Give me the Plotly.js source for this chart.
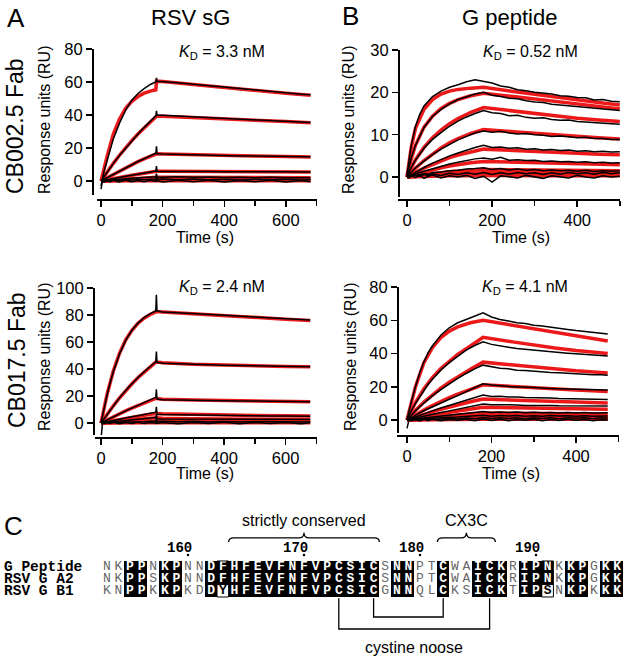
<!DOCTYPE html>
<html>
<head>
<meta charset="utf-8">
<script src="https://cdn.plot.ly/plotly-3.0.1.min.js"></script>
<style>
  body { margin: 0; background: white; }
  #plot { width: 625px; height: 663px; }
</style>
</head>
<body>
<div id="plot"></div>
<script>
// ---- sensorgram data (RU vs s) ----
// panel A: RSV sG, raw traces share tA, fits share tFitA
const tA = [0, 5, 10, 20, 30, 40, 60, 80, 100, 120, 140, 160, 178, 180, 182, 200, 250, 300, 350, 400, 450, 500, 550, 600, 650, 680];
const tFitA = [0, 10, 20, 40, 60, 80, 100, 120, 140, 160, 178, 180, 200, 300, 400, 500, 600, 680];

const cb002SgRaw = [
  [-3, 2.5, 6, 12.5, 19, 25.5, 35, 43, 49, 53, 56, 58.5, 60, 62.5, 60.5, 60.3, 59.6, 58.7, 57.8, 56.8, 55.8, 54.9, 54, 53.3, 52.6, 52.2],
  [0, 1.4, 2.8, 5.5, 8, 10.5, 15.5, 20, 24.5, 28.5, 32.5, 36.3, 39.5, 42.5, 40, 39.8, 39.3, 38.8, 38.3, 37.8, 37.3, 36.8, 36.4, 36, 35.6, 35.4],
  [0, 0.5, 1, 2, 3, 4.1, 6.2, 8.1, 10, 11.8, 13.5, 15.2, 16.8, 21, 16.5, 16.3, 16, 15.8, 15.6, 15.4, 15.2, 15.1, 15, 14.9, 14.8, 14.7],
  [0, 0.2, 0.4, 0.8, 1.1, 1.4, 2.1, 2.8, 3.5, 4.2, 4.8, 5.4, 6, 9, 5.9, 5.8, 5.9, 5.7, 5.8, 5.6, 5.7, 5.6, 5.5, 5.6, 5.5, 5.5],
  [0, 0.1, 0.2, 0.4, 0.5, 0.7, 1, 1.3, 1.6, 1.8, 2.1, 2.3, 2.5, 4.5, 2.4, 2.3, 2.5, 2.2, 2.4, 2.1, 2.3, 2, 2.2, 1.9, 2.1, 1.9],
  [0, 0.3, -0.1, 0.4, 0.2, 0.5, 0.4, 0.8, 0.6, 1, 0.7, 1.1, 0.9, 3, 1, 1.2, 0.7, 1.2, 0.8, 1.1, 0.6, 1.1, 0.7, 1, 0.6, 0.9],
  [-5, 0.5, -0.6, 0.3, -0.5, 0.4, -0.6, 0.5, -0.4, 0.3, -0.5, 0.4, -0.3, 1.5, 0.2, -0.6, 0.5, -0.5, 0.4, -0.6, 0.3, -0.5, 0.4, -0.6, 0.3, -0.4]
];
const cb002SgFit = [
  [0, 8, 15, 28.5, 37.5, 44, 48.3, 51.2, 53.2, 54.5, 55.3, 60.5, 60.3, 58.5, 56.6, 54.8, 53.2, 52],
  [0, 2.8, 5.5, 10.7, 15.6, 20.2, 24.5, 28.5, 32.3, 35.9, 39, 39.3, 39.3, 38.6, 37.7, 36.8, 36, 35.3],
  [0, 1, 2.1, 4.1, 6.1, 8, 9.9, 11.7, 13.4, 15, 16.4, 16.5, 16.4, 15.8, 15.4, 15.1, 14.8, 14.6],
  [0, 0.4, 0.8, 1.5, 2.2, 2.9, 3.5, 4.1, 4.7, 5.3, 5.8, 5.9, 5.9, 5.8, 5.7, 5.6, 5.5, 5.5],
  [0, 0.15, 0.3, 0.6, 0.9, 1.2, 1.4, 1.7, 1.9, 2.1, 2.3, 2.3, 2.3, 2.2, 2.2, 2.1, 2, 2],
  [0, 0.1, 0.2, 0.3, 0.45, 0.55, 0.65, 0.75, 0.85, 0.9, 1, 1, 1, 0.95, 0.9, 0.9, 0.85, 0.85],
  [0, 0.05, 0.1, 0.1, 0.15, 0.15, 0.15, 0.2, 0.2, 0.2, 0.2, 0.2, 0.2, 0.2, 0.2, 0.2, 0.2, 0.2]
];

const cb017SgRaw = [
  [0, 5.5, 11, 21, 30, 38, 51, 61, 68.5, 74, 78, 81, 83, 95, 83, 82.3, 81.7, 81, 80.3, 79.6, 79, 78.4, 77.8, 77.2, 76.6, 76.3],
  [0, 1.6, 3.3, 6.5, 9.7, 12.8, 18.6, 24, 29, 33.7, 38, 42, 45.4, 53, 45, 44.3, 43.8, 43.4, 43.1, 42.8, 42.6, 42.3, 42.1, 41.9, 41.8, 41.7],
  [0, 0.6, 1.2, 2.4, 3.5, 4.7, 6.9, 9, 11, 13, 15, 17.2, 19, 25, 17.8, 17.3, 17, 16.8, 16.6, 16.5, 16.3, 16.2, 16.1, 16, 15.9, 15.8],
  [0, 0.25, 0.5, 1, 1.4, 1.9, 2.8, 3.7, 4.6, 5.4, 6.2, 7, 8, 12, 6.5, 6.2, 6, 5.8, 5.7, 5.5, 5.4, 5.3, 5.2, 5.2, 5.1, 5],
  [0, 0.1, 0.3, 0.5, 0.8, 1, 1.5, 1.9, 2.3, 2.8, 3.2, 3.6, 4, 6, 3.2, 3, 2.9, 2.8, 2.9, 2.7, 2.6, 2.7, 2.5, 2.6, 2.4, 2.5],
  [0, 0.3, 0.1, 0.4, 0.3, 0.6, 0.5, 0.8, 0.7, 1, 0.9, 1.2, 1.3, 3, 1.1, 1.3, 0.9, 1.2, 0.8, 1.1, 0.7, 1.1, 0.8, 1, 0.7, 1],
  [-12, 0.5, -0.5, 0.4, -0.4, 0.5, -0.5, 0.4, -0.3, 0.5, -0.4, 0.3, -0.2, 1.5, -0.3, 0.4, -0.5, 0.3, -0.4, 0.5, -0.5, 0.3, -0.4, 0.4, -0.5, 0.2]
];
const cb017SgFit = [
  [0, 11, 21.5, 38.5, 51.5, 61.5, 68.5, 73.8, 77.6, 80.4, 82.3, 82.5, 82.3, 80.8, 79.3, 78, 76.9, 76],
  [0, 3.3, 6.5, 12.7, 18.5, 23.9, 28.9, 33.5, 37.8, 41.8, 45.1, 45.2, 44.6, 43.5, 42.8, 42.3, 41.9, 41.6],
  [0, 1.2, 2.4, 4.7, 6.9, 9, 11, 13, 14.9, 16.7, 18.2, 18.2, 17.6, 17, 16.6, 16.3, 16, 15.8],
  [0, 0.45, 0.9, 1.8, 2.7, 3.5, 4.3, 5.1, 5.8, 6.5, 7.1, 7.1, 6.8, 6.2, 5.8, 5.5, 5.3, 5.1],
  [0, 0.25, 0.5, 1, 1.5, 1.9, 2.3, 2.7, 3.1, 3.5, 3.8, 3.8, 3.5, 3.1, 2.9, 2.7, 2.6, 2.5],
  [0, 0.1, 0.2, 0.4, 0.55, 0.7, 0.85, 1, 1.1, 1.2, 1.3, 1.3, 1.25, 1.15, 1.05, 1, 0.95, 0.9],
  [0, 0.05, 0.1, 0.1, 0.15, 0.15, 0.2, 0.2, 0.2, 0.2, 0.2, 0.2, 0.2, 0.2, 0.2, 0.2, 0.2, 0.2]
];

// panel B: G peptide
const tB = [0, 5, 10, 20, 30, 40, 50, 60, 80, 100, 120, 140, 160, 180, 200, 220, 240, 260, 280, 300, 320, 340, 360, 380, 400, 420, 440, 460, 480, 500];
const tFitB = [0, 10, 20, 40, 60, 80, 100, 120, 150, 180, 250, 300, 350, 400, 450, 500];

const cb002PepRaw = [
  [0.5, 4, 7.5, 12, 14.8, 16.8, 18, 19, 20.3, 21.2, 21.8, 22.5, 23, 22.6, 22.2, 21.5, 21.2, 20.6, 20.4, 20, 19.8, 19.6, 19.2, 19.1, 18.8, 18.7, 18.2, 18.3, 17.9, 17.8],
  [0.3, 2.5, 4.5, 7.5, 9.8, 11.7, 13, 14.3, 16, 17.3, 18.3, 19, 19.6, 20, 19.3, 19, 18.6, 18.5, 18, 17.7, 17.6, 17.2, 17, 16.8, 16.7, 16.4, 16.3, 16, 15.9, 15.7],
  [0, 1.2, 2.3, 4, 5.5, 6.8, 7.9, 8.9, 10.5, 12, 13.2, 14.2, 15, 15.7, 15.2, 15, 14.5, 14.6, 14.1, 13.9, 14, 13.6, 13.4, 13.5, 13.1, 13, 12.9, 12.8, 12.6, 12.5],
  [0, 0.6, 1.2, 2.2, 3, 3.8, 4.6, 5.3, 6.6, 7.8, 8.8, 9.6, 10.4, 10.9, 10.6, 10.8, 10.4, 10.2, 10.3, 10, 9.9, 9.6, 9.7, 9.5, 9.3, 9.4, 9.1, 9.1, 8.9, 8.9],
  [0, 0.3, 0.6, 1.2, 1.8, 2.3, 2.8, 3.3, 4.2, 5, 5.7, 6.4, 7, 7.5, 7, 7.1, 6.8, 6.9, 6.6, 6.7, 6.4, 6.5, 6.3, 6.4, 6.1, 6.2, 6, 6.1, 5.9, 6],
  [0, 0.2, 0.4, 0.8, 1.1, 1.4, 1.7, 2, 2.6, 3.1, 3.5, 3.9, 4.3, 4.5, 4.2, 4.7, 4, 4.1, 3.9, 4, 3.7, 3.8, 3.6, 3.7, 3.5, 3.6, 3.4, 3.5, 3.3, 3.4],
  [0, 0.1, 0.2, 0.4, 0.5, 0.8, 0.7, 1, 1.2, 1.5, 1.6, 1.9, 2, 2.2, 1.8, 2, 1.7, 1.9, 1.6, 1.8, 1.5, 1.7, 1.5, 1.6, 1.4, 1.6, 1.3, 1.5, 1.4, 1.5],
  [0, 0.1, 0.2, 0.5, 0.2, 0.6, 0.3, 0.7, 0.4, 0.9, 0.6, 1, 0.7, 1.1, 0.6, 1, 0.7, 1.1, 0.8, 1, 0.6, 1, 0.7, 1.1, 0.8, 1, 0.7, 1.1, 0.8, 1],
  [0, -0.2, 0.3, -0.1, 0.4, -0.3, 0.2, 0.5, -0.2, 0.3, 0, 0.4, -0.3, 0.2, -1.2, 0.3, 0.1, -0.2, 0.4, 0, -0.3, 0.3, 0.1, -0.2, 0.4, 0, -0.2, 0.3, 0, 0.2]
];
const cb002PepFit = [
  [0, 7, 11.5, 16, 18.3, 19.6, 20.3, 20.7, 21, 21.2, 20.2, 19.5, 18.8, 18.2, 17.6, 17],
  [0, 4.3, 7.5, 11.8, 14.4, 16.2, 17.4, 18.3, 19.2, 19.8, 19, 18.4, 17.8, 17.2, 16.6, 16.1],
  [0, 2.2, 4.1, 7, 9.3, 11.1, 12.6, 13.8, 15.3, 16.4, 15.6, 15, 14.4, 13.9, 13.5, 13.1],
  [0, 1.1, 2.1, 3.9, 5.5, 6.9, 8.1, 9.1, 10.3, 11.2, 10.7, 10.3, 9.9, 9.6, 9.3, 9],
  [0, 0.6, 1.1, 2.1, 3, 3.8, 4.6, 5.2, 6, 6.6, 6.3, 6, 5.8, 5.6, 5.4, 5.3],
  [0, 0.3, 0.6, 1.2, 1.7, 2.2, 2.6, 3, 3.4, 3.7, 3.5, 3.3, 3.2, 3.1, 3, 2.9],
  [0, 0.15, 0.3, 0.6, 0.85, 1.05, 1.25, 1.4, 1.6, 1.8, 1.75, 1.7, 1.65, 1.6, 1.55, 1.5],
  [0, 0.1, 0.2, 0.35, 0.5, 0.6, 0.7, 0.8, 0.9, 1, 1, 0.95, 0.95, 0.9, 0.9, 0.9],
  [0, 0.05, 0.1, 0.15, 0.2, 0.25, 0.3, 0.3, 0.35, 0.35, 0.35, 0.3, 0.3, 0.3, 0.3, 0.3]
];

const tB2 = [0, 5, 10, 20, 30, 40, 50, 60, 80, 100, 120, 140, 160, 180, 200, 220, 240, 260, 280, 300, 320, 340, 360, 380, 400, 420, 440, 460, 475];
const tFitB2 = [0, 10, 20, 40, 60, 80, 100, 120, 150, 180, 250, 300, 350, 400, 475];

const cb017PepRaw = [
  [0, 6, 11, 20, 28.5, 35, 40.5, 44.5, 51, 55.5, 58.5, 60.5, 62.5, 64.5, 62, 60.5, 59.5, 58.5, 58, 57, 56.5, 55.7, 55, 54.5, 53.8, 53.2, 52.7, 52.3, 51.8],
  [0, 2.8, 5.5, 10, 14, 18, 21.5, 24.5, 30, 34.5, 38.5, 42, 44.8, 47, 45.5, 44.5, 43.8, 43, 42.5, 41.8, 41.3, 41, 40.5, 40.2, 39.8, 39.5, 39.2, 38.8, 38.5],
  [0, 1.5, 3, 5.5, 8, 10.3, 12.5, 14.5, 18.3, 21.8, 25, 28, 30.8, 33, 32, 31.2, 30.8, 30, 29.8, 29.3, 29, 28.6, 28.5, 28.1, 27.8, 27.6, 27.3, 27.2, 27],
  [0, 0.8, 1.6, 3, 4.3, 5.6, 6.8, 8, 10.3, 12.5, 14.7, 17, 19.5, 21.8, 21, 20.5, 20.3, 19.8, 19.8, 19.4, 19.2, 19, 18.8, 18.7, 18.5, 18.4, 18.2, 18.1, 18],
  [0, 0.5, 1, 2, 2.9, 3.8, 4.7, 5.5, 7.2, 8.8, 10.4, 12, 13.6, 15, 14.2, 14.3, 13.8, 13.9, 13.5, 13.5, 13.2, 13.3, 13, 12.9, 12.9, 12.7, 12.6, 12.5, 12.4],
  [0, 0.3, 0.6, 1.2, 1.8, 2.3, 2.9, 3.4, 4.5, 5.5, 6.5, 7.5, 8.6, 9.6, 9.2, 9.3, 9, 9.1, 8.8, 8.9, 8.7, 8.8, 8.6, 8.6, 8.5, 8.6, 8.4, 8.5, 8.4],
  [0, 0.2, 0.3, 0.6, 0.9, 1.2, 1.5, 1.8, 2.3, 2.9, 3.4, 4, 4.5, 5.1, 4.6, 4.9, 4.5, 4.8, 4.4, 4.7, 4.4, 4.6, 4.3, 4.6, 4.3, 4.5, 4.2, 4.5, 4.4],
  [0, 0.1, 0.2, 0.3, 0.6, 0.6, 0.9, 1, 1.2, 1.7, 1.8, 2.3, 2.4, 2.9, 2.3, 2.7, 2.4, 2.7, 2.3, 2.6, 2.3, 2.7, 2.4, 2.6, 2.3, 2.6, 2.3, 2.6, 2.4],
  [0, 0.3, -0.2, 0.4, 0.1, 0.6, 0.2, 0.8, 0.4, 1, 0.6, 1.2, 0.8, 1.5, 0.9, 1.4, 0.9, 1.3, 0.8, 1.4, 0.9, 1.3, 0.8, 1.4, 1, 1.3, 0.8, 1.3, 1],
  [-5, 0.5, -0.4, 0.3, -0.5, 0.4, -0.3, 0.5, -0.4, 0.3, -0.2, 0.5, -0.4, 0.6, -0.3, 0.4, -0.5, 0.3, -0.2, 0.5, -0.4, 0.3, -0.3, 0.4, -0.2, 0.3, -0.4, 0.2, 0]
];
const cb017PepFit = [
  [0, 11, 20, 34.5, 43.5, 49.5, 53.5, 56, 58.5, 60, 57, 54.5, 52.5, 50.5, 47.5],
  [0, 5.6, 10.5, 18.8, 25.5, 31, 35.5, 39.5, 44.5, 49.8, 47, 45, 43.3, 41.8, 40],
  [0, 3, 5.8, 10.8, 15.2, 19.2, 22.8, 26, 30.5, 34.8, 33, 31.8, 30.6, 29.6, 28.3],
  [0, 1.6, 3.1, 6, 8.7, 11.2, 13.5, 15.6, 18.6, 21.2, 20.2, 19.4, 18.7, 18.1, 17.2],
  [0, 0.9, 1.8, 3.5, 5, 6.5, 7.9, 9.2, 11, 12.6, 12.1, 11.6, 11.2, 10.7, 10.2],
  [0, 0.5, 1, 2, 2.9, 3.8, 4.6, 5.4, 6.6, 7.7, 7.4, 7.2, 7, 6.8, 6.5],
  [0, 0.3, 0.6, 1.1, 1.6, 2.1, 2.6, 3, 3.6, 4.2, 4.1, 4, 3.9, 3.8, 3.7],
  [0, 0.15, 0.3, 0.6, 0.9, 1.2, 1.5, 1.7, 2.1, 2.4, 2.35, 2.3, 2.25, 2.2, 2.15],
  [0, 0.1, 0.2, 0.35, 0.5, 0.6, 0.7, 0.8, 0.95, 1.1, 1.1, 1.05, 1.05, 1, 1],
  [0, 0.05, 0.1, 0.15, 0.2, 0.25, 0.3, 0.3, 0.35, 0.4, 0.4, 0.4, 0.4, 0.4, 0.4]
];

const kdLabels = ['3.3 nM', '2.4 nM', '0.52 nM', '4.1 nM'];

// ---- panel C: alignment ----
const seqNames = ['G Peptide', 'RSV G A2', 'RSV G B1'];
const seqs = [
  'NKPPNKPNNDFHFEVFNFVPCSICSNNPTCWAICKRIPNKKPGKK',
  'NKPPSKPNNDFHFEVFNFVPCSICSNNPTCWAICKRIPNKKPGKK',
  'KNPPKKPKDDYHFEVFNFVPCSICGNNQLCKSICKTIPSNKPKKK'
];
const firstResidue = 153;
const rulerMarks = [160, 170, 180, 190];
const framedResidues = [163, 191];
const braceSpans = [[164, 176], [182, 186]];
const braceLabels = ['strictly conserved', 'CX3C'];
const noosePairs = [[173, 186], [176, 182]];

// ---- helpers ----
const W = 625, H = 663;
const px = x => x / W;
const py = y => 1 - y / H;
const SANS = 'Liberation Sans, Arial, sans-serif';
const MONO = 'Liberation Mono, Courier New, monospace';
const RED = 'rgb(235,25,25)';

const traces = [];
function addPanel(tRaw, raw, tFit, fit, xa, ya) {
  fit.forEach(f => traces.push({
    x: tFit, y: f, xaxis: xa, yaxis: ya, type: 'scatter', mode: 'lines',
    line: {color: RED, width: 3.5}, hoverinfo: 'skip'
  }));
  raw.forEach(r => traces.push({
    x: tRaw, y: r, xaxis: xa, yaxis: ya, type: 'scatter', mode: 'lines',
    line: {color: 'black', width: 1.5}, hoverinfo: 'skip'
  }));
}
addPanel(tA, cb002SgRaw, tFitA, cb002SgFit, 'x', 'y');
addPanel(tA, cb017SgRaw, tFitA, cb017SgFit, 'x2', 'y2');
addPanel(tB, cb002PepRaw, tFitB, cb002PepFit, 'x3', 'y3');
addPanel(tB2, cb017PepRaw, tFitB2, cb017PepFit, 'x4', 'y4');

// alignment shading: identical columns black, framed columns black where they match row 0
const nCol = seqs[0].length;
const cols = Array.from({length: nCol}, (_, i) => i);
const framedCols = framedResidues.map(n => n - firstResidue);
const shade = seqs.map(s => cols.map(i => {
  const same = seqs.every(o => o[i] === s[i]);
  if (same) return 1;
  if (framedCols.includes(i) && s[i] === seqs[0][i]) return 1;
  return 0;
}));
traces.push({
  type: 'heatmap', x: cols, y: [0, 1, 2], z: shade, xaxis: 'x5', yaxis: 'y5',
  colorscale: [[0, 'rgba(255,255,255,0)'], [1, 'black']], zmin: 0, zmax: 1,
  showscale: false, hoverinfo: 'skip'
});
const groups = {white: {x: [], y: [], t: []}, gray: {x: [], y: [], t: []}, framed: {x: [], y: [], t: []}};
seqs.forEach((s, r) => cols.forEach(i => {
  let g = 'gray';
  if (shade[r][i]) g = 'white';
  else if (framedCols.includes(i)) g = 'framed';
  groups[g].x.push(i); groups[g].y.push(r); groups[g].t.push(s[i]);
}));
const groupFont = {
  white: {color: 'white', weight: 'bold'},
  gray: {color: '#666', weight: 'normal'},
  framed: {color: 'black', weight: 'bold'}
};
Object.keys(groups).forEach(k => traces.push({
  type: 'scatter', mode: 'text', x: groups[k].x, y: groups[k].y, text: groups[k].t,
  xaxis: 'x5', yaxis: 'y5', cliponaxis: false, hoverinfo: 'skip',
  textposition: 'middle center',
  textfont: {family: MONO, size: 13, color: groupFont[k].color, weight: groupFont[k].weight}
}));
traces.push({
  type: 'scatter', mode: 'markers', x: rulerMarks.map(n => n - firstResidue),
  y: rulerMarks.map(() => -1.0), xaxis: 'x5', yaxis: 'y5', cliponaxis: false,
  marker: {color: 'black', size: 2.5}, hoverinfo: 'skip'
});

// ---- axes ----
const axisBase = {
  showline: true, linecolor: 'black', linewidth: 1.5, ticks: 'outside', ticklen: 6,
  tickwidth: 1.5, tickcolor: 'black', showgrid: false, zeroline: false, fixedrange: true,
  tickfont: {family: SANS, size: 16.5, color: 'black'}, anchor: 'free'
};
const minor100 = {dtick: 100, tick0: 0, ticks: 'outside', ticklen: 5, tickwidth: 1.5, tickcolor: 'black'};

const shapes = [];
framedCols.forEach(c => shapes.push({
  type: 'rect', xref: 'x5', yref: 'y5', x0: c - 0.5, x1: c + 0.5, y0: -0.5, y1: 2.5,
  line: {color: 'black', width: 1}
}));
// curly braces above the alignment
braceSpans.forEach(([a, b]) => {
  const x0 = a - firstResidue - 0.5, x1 = b - firstResidue + 0.5, xm = (x0 + x1) / 2;
  const yEnd = -2.08, yMid = -2.42, yTip = -2.85, d = 0.45;
  shapes.push({
    type: 'path', xref: 'x5', yref: 'y5', line: {color: 'black', width: 1.3},
    path: `M${x0},${yEnd} Q${x0},${yMid} ${x0 + d},${yMid} L${xm - d},${yMid} Q${xm},${yMid} ${xm},${yTip} ` +
          `Q${xm},${yMid} ${xm + d},${yMid} L${x1 - d},${yMid} Q${x1},${yMid} ${x1},${yEnd}`
  });
});
// cystine noose brackets
const bracketDepth = [5.17, 4.17];
noosePairs.forEach(([a, b], k) => {
  const xa = a - firstResidue, xb = b - firstResidue, yTop = 2.6, yBot = bracketDepth[k];
  shapes.push({
    type: 'path', xref: 'x5', yref: 'y5', line: {color: 'black', width: 1.3},
    path: `M${xa},${yTop} L${xa},${yBot} L${xb},${yBot} L${xb},${yTop}`
  });
});

const ann = [];
function txt(text, x, y, size, extra) {
  ann.push(Object.assign({
    text, x: px(x), y: py(y), xref: 'paper', yref: 'paper', showarrow: false,
    xanchor: 'center', yanchor: 'middle', font: {family: SANS, size, color: 'black'}
  }, extra || {}));
}
txt('A', 16, 18, 26);
txt('B', 350, 16, 26);
txt('C', 13, 526, 26);
txt('RSV sG', 190, 17, 22);
txt('G peptide', 509, 17, 22);
txt('CB002.5 Fab', 15, 126, 23, {textangle: -90});
txt('CB017.5 Fab', 17, 360, 23, {textangle: -90});
[[44, 120], [44, 357], [348, 120], [350, 357]].forEach(([x, y]) =>
  txt('Response units (RU)', x, y, 16, {textangle: -90}));
[[205, 237], [205, 473], [521, 237], [511, 473]].forEach(([x, y]) => txt('Time (s)', x, y, 16));
[[222, 53], [222, 287], [530, 53], [525, 287]].forEach(([x, y], i) =>
  txt('<i>K</i><sub>D</sub> = ' + kdLabels[i], x, y, 16));

seqNames.forEach((n, r) => ann.push({
  text: n, xref: 'paper', x: px(3), xanchor: 'left', yref: 'y5', y: r, yanchor: 'middle',
  showarrow: false, borderpad: 0, font: {family: MONO, size: 14.5, color: 'black', weight: 'bold'}
}));
rulerMarks.forEach(n => ann.push({
  text: String(n), xref: 'x5', x: n - firstResidue + 0.55, xanchor: 'right', yref: 'y5', y: -1.6,
  yanchor: 'middle', showarrow: false, font: {family: MONO, size: 14, color: 'black', weight: 'bold'}
}));
braceSpans.forEach(([a, b], k) => ann.push({
  text: braceLabels[k], xref: 'x5', x: (a + b) / 2 - firstResidue, yref: 'y5', y: -3.85,
  xanchor: 'center', yanchor: 'middle', showarrow: false, font: {family: SANS, size: 16, color: 'black'}
}));
ann.push({
  text: 'cystine noose', xref: 'x5', yref: 'y5',
  x: (noosePairs[0][0] + noosePairs[0][1]) / 2 - firstResidue, y: 6.67,
  xanchor: 'center', yanchor: 'middle', showarrow: false, font: {family: SANS, size: 16, color: 'black'}
});

const layout = {
  width: W, height: H, margin: {l: 0, r: 0, t: 0, b: 0},
  paper_bgcolor: 'white', plot_bgcolor: 'white', showlegend: false,
  xaxis: Object.assign({}, axisBase, {domain: [px(97), px(317)], range: [-13, 701], dtick: 200, tick0: 0, position: py(199), minor: minor100}),
  yaxis: Object.assign({}, axisBase, {domain: [py(195), py(49)], range: [-8.5, 80], dtick: 20, position: px(92)}),
  xaxis2: Object.assign({}, axisBase, {domain: [px(95), px(317)], range: [-19.5, 702], dtick: 200, tick0: 0, position: py(437), minor: minor100}),
  yaxis2: Object.assign({}, axisBase, {domain: [py(435), py(288)], range: [-8.9, 100], dtick: 20, position: px(93)}),
  xaxis3: Object.assign({}, axisBase, {domain: [px(398), px(620)], range: [-21.1, 500.5], dtick: 200, tick0: 0, position: py(199), minor: minor100}),
  yaxis3: Object.assign({}, axisBase, {domain: [py(197), py(50)], range: [-4.7, 30], dtick: 10, position: px(398)}),
  xaxis4: Object.assign({}, axisBase, {domain: [px(397), px(618.5)], range: [-23.7, 500.5], dtick: 200, tick0: 0, position: py(435), minor: minor100}),
  yaxis4: Object.assign({}, axisBase, {domain: [py(433), py(287)], range: [-7.8, 80], dtick: 20, position: px(397)}),
  xaxis5: {domain: [px(101), px(101 + 45 * 11.6)], range: [-0.5, 44.5], visible: false, fixedrange: true, anchor: 'y5'},
  yaxis5: {domain: [py(662), py(510)], range: [7.92, -4.75], visible: false, fixedrange: true, anchor: 'x5'},
  shapes, annotations: ann
};

Plotly.newPlot('plot', traces, layout, {displayModeBar: false, staticPlot: true});
</script>
</body>
</html>
